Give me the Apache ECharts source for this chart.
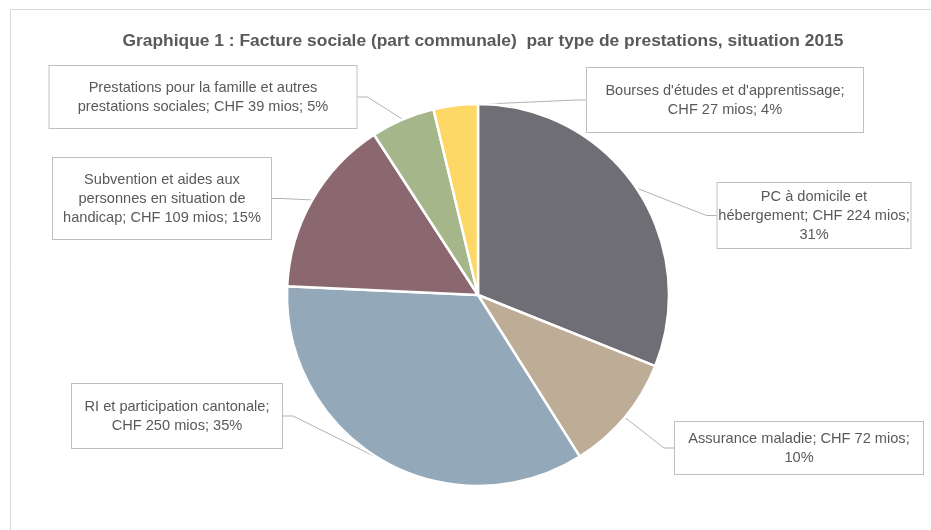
<!DOCTYPE html>
<html><head><meta charset="utf-8">
<script src="https://cdn.jsdelivr.net/npm/echarts@6/dist/echarts.min.js"></script>
<style>html,body{margin:0;padding:0;background:#fff}#c{width:931px;height:530px}</style>
</head><body><div id="c"></div>
<script>
// ---- data ----
const titleText = 'Graphique 1 : Facture sociale (part communale)  par type de prestations, situation 2015';
const categories = [
  'PC à domicile et\nhébergement',
  'Assurance maladie',
  'RI et participation cantonale',
  'Subvention et aides aux\npersonnes en situation de\nhandicap',
  'Prestations pour la famille et autres\nprestations sociales',
  "Bourses d'études et d'apprentissage"
];
const values = [224, 72, 250, 109, 39, 27];
const labelTemplates = [
  '{b}; CHF {c} mios;\n{d}%',
  '{b}; CHF {c} mios;\n{d}%',
  '{b};\nCHF {c} mios; {d}%',
  '{b}; CHF {c} mios; {d}%',
  '{b}; CHF {c} mios; {d}%',
  '{b};\nCHF {c} mios; {d}%'
];
const colors = ['#6f6e74', '#bdac96', '#93a9b9', '#8b6770', '#a5b68b', '#fdd866'];

// ---- layout (label boxes: center x, top y, box width, vertical padding) ----
const boxes = [
  {cx: 814, top: 183, w: 193, pv: 4},
  {cx: 799, top: 422, w: 248, pv: 7},
  {cx: 177, top: 384, w: 210, pv: 13},
  {cx: 162, top: 158, w: 218, pv: 12},
  {cx: 203, top: 66,  w: 307, pv: 12},
  {cx: 725, top: 68,  w: 276, pv: 13}
];
const FONT = "'Liberation Sans', Arial, sans-serif";

const chart = echarts.init(document.getElementById('c'), null, {renderer: 'canvas'});
const data = categories.map((n, i) => ({
  name: n,
  value: values[i],
  itemStyle: {color: colors[i]},
  label: {
    formatter: labelTemplates[i],
    width: boxes[i].w - 12,
    padding: [boxes[i].pv, 6]
  }
}));

chart.setOption({
  animation: false,
  backgroundColor: '#fff',
  title: {
    text: titleText,
    left: 478, top: 28, textAlign: 'center',
    textStyle: {fontFamily: FONT, fontWeight: 'bold', fontSize: 17.4, color: '#595959'}
  },
  graphic: [
    {type: 'line', shape: {x1: 10, y1: 9.5, x2: 931, y2: 9.5}, style: {stroke: '#d9d9d9', lineWidth: 1}},
    {type: 'line', shape: {x1: 10.5, y1: 9, x2: 10.5, y2: 530}, style: {stroke: '#d9d9d9', lineWidth: 1}}
  ],
  series: [{
    type: 'pie',
    center: [478, 295],
    radius: 191,
    startAngle: 90,
    clockwise: true,
    percentPrecision: 0,
    avoidLabelOverlap: false,
    itemStyle: {borderColor: '#fff', borderWidth: 2.5},
    label: {
      show: true,
      position: 'outside',
      fontFamily: FONT,
      fontSize: 14.6,
      lineHeight: 19,
      color: '#595959',
      align: 'center',
      overflow: 'none',
      backgroundColor: '#fff',
      borderColor: '#bfbfbf',
      borderWidth: 1
    },
    labelLine: {show: true, length: 10, length2: 10, lineStyle: {color: '#b3b3b3', width: 1}},
    labelLayout: function (p) {
      const b = boxes[p.dataIndex];
      return {x: b.cx, y: b.top, align: 'center', verticalAlign: 'top'};
    },
    emphasis: {disabled: true},
    data: data
  }]
});
</script>
</body></html>
